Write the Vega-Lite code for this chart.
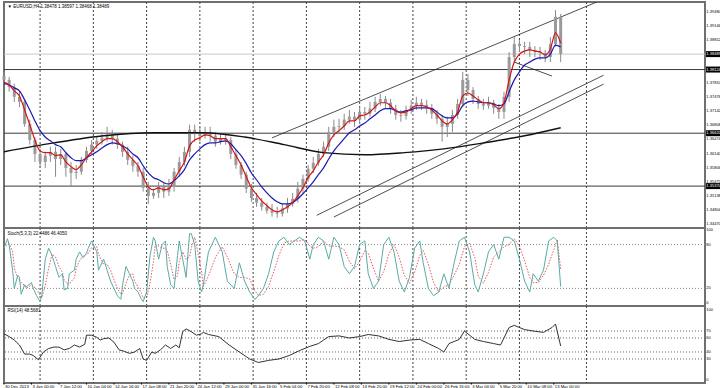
{
"$schema":"https://vega.github.io/schema/vega-lite/v6.json",
"background":"white","padding":0,"spacing":0,"bounds":"flush",
"config":{"view":{"stroke":"#707070","strokeWidth":2},"text":{"font":"Liberation Sans, Arial, sans-serif","fontSize":4.2,"color":"#000"}},
"datasets":{
"grid":[{"i":21},{"i":52},{"i":83},{"i":114},{"i":145},{"i":176},{"i":207},{"i":238},{"i":269},{"i":300},{"i":339}],
"pticks":[{"p":1.3948},{"p":1.39146},{"p":1.38812},{"p":1.38478},{"p":1.38144},{"p":1.3781},{"p":1.37476},{"p":1.37142},{"p":1.36808},{"p":1.36474},{"p":1.3614},{"p":1.35806},{"p":1.35472},{"p":1.35138},{"p":1.34804},{"p":1.3447}],
"xlabels":[{"i":0,"t":"30 Dec 2013"},{"i":16,"t":"3 Jan 00:00"},{"i":32,"t":"7 Jan 12:00"},{"i":48,"t":"10 Jan 04:00"},{"i":64,"t":"14 Jan 16:00"},{"i":80,"t":"17 Jan 08:00"},{"i":96,"t":"21 Jan 20:00"},{"i":112,"t":"24 Jan 12:00"},{"i":128,"t":"29 Jan 00:00"},{"i":144,"t":"31 Jan 16:00"},{"i":160,"t":"5 Feb 04:00"},{"i":176,"t":"7 Feb 20:00"},{"i":192,"t":"12 Feb 08:00"},{"i":208,"t":"16 Feb 20:00"},{"i":224,"t":"19 Feb 12:00"},{"i":240,"t":"24 Feb 00:00"},{"i":256,"t":"26 Feb 16:00"},{"i":272,"t":"3 Mar 04:00"},{"i":288,"t":"5 Mar 20:00"},{"i":304,"t":"10 Mar 08:00"},{"i":320,"t":"13 Mar 00:00"}],
"levels":[{"level":1.38489,"kind":"bid"},{"level":1.38124,"kind":"level"},{"level":1.3662,"kind":"level"},{"level":1.3537,"kind":"level"}],
"trend":[{"i1":156,"p1":1.3651,"i2":345,"p2":1.3972},{"i1":182,"p1":1.3468,"i2":349,"p2":1.3799},{"i1":192,"p1":1.3464,"i2":349,"p2":1.3778},{"i1":297,"p1":1.383,"i2":319,"p2":1.3797}],
"ma200":[{"i":0,"v":1.3618},{"i":29,"v":1.3639},{"i":58,"v":1.3656},{"i":87,"v":1.3663},{"i":116,"v":1.3663},{"i":140,"v":1.3653},{"i":163,"v":1.3635},{"i":186,"v":1.3616},{"i":210,"v":1.3611},{"i":233,"v":1.3616},{"i":256,"v":1.3625},{"i":279,"v":1.3639},{"i":303,"v":1.3656},{"i":324,"v":1.3675}],
"candles":[
{"i":0,"o":1.3797,"h":1.3807,"l":1.3779,"c":1.3788,"r":1.3783,"b":1.3779},
{"i":3,"o":1.3788,"h":1.3795,"l":1.376,"c":1.3771,"r":1.3776,"b":1.3776},
{"i":6,"o":1.3771,"h":1.3779,"l":1.3736,"c":1.3748,"r":1.3762,"b":1.3769},
{"i":9,"o":1.3748,"h":1.376,"l":1.3724,"c":1.3736,"r":1.375,"b":1.3762},
{"i":12,"o":1.3736,"h":1.3743,"l":1.3677,"c":1.3684,"r":1.3717,"b":1.3741},
{"i":15,"o":1.3684,"h":1.3694,"l":1.3635,"c":1.3646,"r":1.3682,"b":1.3717},
{"i":18,"o":1.3646,"h":1.3653,"l":1.3594,"c":1.3613,"r":1.3646,"b":1.3691},
{"i":21,"o":1.3613,"h":1.3625,"l":1.358,"c":1.3594,"r":1.362,"b":1.3668},
{"i":24,"o":1.3594,"h":1.3618,"l":1.358,"c":1.3609,"r":1.3616,"b":1.3653},
{"i":27,"o":1.3609,"h":1.363,"l":1.3594,"c":1.3618,"r":1.3616,"b":1.3644},
{"i":30,"o":1.3618,"h":1.363,"l":1.3559,"c":1.3601,"r":1.3609,"b":1.3635},
{"i":33,"o":1.3601,"h":1.3625,"l":1.3587,"c":1.3613,"r":1.3611,"b":1.363},
{"i":36,"o":1.3613,"h":1.3618,"l":1.3559,"c":1.358,"r":1.3594,"b":1.3616},
{"i":39,"o":1.358,"h":1.3594,"l":1.3535,"c":1.3568,"r":1.3583,"b":1.3604},
{"i":42,"o":1.3568,"h":1.3587,"l":1.3554,"c":1.3571,"r":1.3576,"b":1.3597},
{"i":45,"o":1.3571,"h":1.3606,"l":1.3564,"c":1.3599,"r":1.3587,"b":1.3597},
{"i":48,"o":1.3599,"h":1.363,"l":1.3592,"c":1.362,"r":1.3604,"b":1.3604},
{"i":51,"o":1.362,"h":1.3646,"l":1.3613,"c":1.3635,"r":1.3618,"b":1.3611},
{"i":54,"o":1.3635,"h":1.3653,"l":1.3625,"c":1.3644,"r":1.3632,"b":1.3618},
{"i":57,"o":1.3644,"h":1.3665,"l":1.3635,"c":1.3651,"r":1.3642,"b":1.3627},
{"i":60,"o":1.3651,"h":1.3677,"l":1.3642,"c":1.3658,"r":1.3649,"b":1.3635},
{"i":63,"o":1.3658,"h":1.367,"l":1.3635,"c":1.3649,"r":1.3649,"b":1.3639},
{"i":66,"o":1.3649,"h":1.3658,"l":1.3625,"c":1.3635,"r":1.3642,"b":1.3637},
{"i":69,"o":1.3635,"h":1.3642,"l":1.3606,"c":1.3618,"r":1.363,"b":1.3632},
{"i":72,"o":1.3618,"h":1.363,"l":1.3587,"c":1.3599,"r":1.3613,"b":1.3625},
{"i":75,"o":1.3599,"h":1.3609,"l":1.3571,"c":1.3585,"r":1.3599,"b":1.3613},
{"i":78,"o":1.3585,"h":1.3594,"l":1.3559,"c":1.3571,"r":1.3585,"b":1.3604},
{"i":81,"o":1.3571,"h":1.358,"l":1.3524,"c":1.3533,"r":1.3559,"b":1.3585},
{"i":84,"o":1.3533,"h":1.3547,"l":1.3495,"c":1.3514,"r":1.3535,"b":1.3568},
{"i":87,"o":1.3514,"h":1.3531,"l":1.3507,"c":1.3521,"r":1.3528,"b":1.3557},
{"i":90,"o":1.3521,"h":1.3547,"l":1.3509,"c":1.3535,"r":1.3533,"b":1.3552},
{"i":93,"o":1.3535,"h":1.3547,"l":1.3509,"c":1.3524,"r":1.3528,"b":1.3545},
{"i":96,"o":1.3524,"h":1.3554,"l":1.3514,"c":1.3535,"r":1.3531,"b":1.3542},
{"i":99,"o":1.3535,"h":1.358,"l":1.3524,"c":1.3571,"r":1.3552,"b":1.355},
{"i":102,"o":1.3571,"h":1.3606,"l":1.3559,"c":1.3594,"r":1.3573,"b":1.3561},
{"i":105,"o":1.3594,"h":1.363,"l":1.3585,"c":1.3618,"r":1.3594,"b":1.3576},
{"i":108,"o":1.3618,"h":1.3682,"l":1.3606,"c":1.367,"r":1.3632,"b":1.3599},
{"i":111,"o":1.367,"h":1.3682,"l":1.3642,"c":1.366,"r":1.3646,"b":1.3613},
{"i":114,"o":1.366,"h":1.3677,"l":1.3642,"c":1.3656,"r":1.3651,"b":1.3625},
{"i":117,"o":1.3656,"h":1.3677,"l":1.3649,"c":1.3665,"r":1.3658,"b":1.3635},
{"i":120,"o":1.3665,"h":1.3677,"l":1.3642,"c":1.3656,"r":1.3656,"b":1.3639},
{"i":123,"o":1.3656,"h":1.3665,"l":1.363,"c":1.3642,"r":1.3649,"b":1.3639},
{"i":126,"o":1.3642,"h":1.366,"l":1.3635,"c":1.3649,"r":1.3649,"b":1.3642},
{"i":129,"o":1.3649,"h":1.3658,"l":1.3635,"c":1.3646,"r":1.3649,"b":1.3644},
{"i":132,"o":1.3646,"h":1.3653,"l":1.3601,"c":1.3613,"r":1.363,"b":1.3637},
{"i":135,"o":1.3613,"h":1.3625,"l":1.3578,"c":1.3587,"r":1.3609,"b":1.3623},
{"i":138,"o":1.3587,"h":1.3594,"l":1.3554,"c":1.3564,"r":1.3587,"b":1.3609},
{"i":141,"o":1.3564,"h":1.3571,"l":1.3521,"c":1.3531,"r":1.3559,"b":1.359},
{"i":144,"o":1.3531,"h":1.3542,"l":1.35,"c":1.3509,"r":1.3533,"b":1.3568},
{"i":147,"o":1.3509,"h":1.3521,"l":1.3488,"c":1.3498,"r":1.3517,"b":1.3552},
{"i":150,"o":1.3498,"h":1.3509,"l":1.3479,"c":1.3488,"r":1.3502,"b":1.3535},
{"i":153,"o":1.3488,"h":1.3498,"l":1.3472,"c":1.3479,"r":1.3491,"b":1.3521},
{"i":156,"o":1.3479,"h":1.3495,"l":1.3465,"c":1.3474,"r":1.3481,"b":1.3509},
{"i":159,"o":1.3474,"h":1.3488,"l":1.3462,"c":1.3472,"r":1.3476,"b":1.35},
{"i":162,"o":1.3472,"h":1.3495,"l":1.3465,"c":1.3484,"r":1.3481,"b":1.3495},
{"i":165,"o":1.3484,"h":1.3509,"l":1.3474,"c":1.3495,"r":1.3488,"b":1.3495},
{"i":168,"o":1.3495,"h":1.3521,"l":1.3488,"c":1.3507,"r":1.3498,"b":1.3498},
{"i":171,"o":1.3507,"h":1.3547,"l":1.3498,"c":1.3531,"r":1.3514,"b":1.3507},
{"i":174,"o":1.3531,"h":1.3564,"l":1.3521,"c":1.3554,"r":1.3533,"b":1.3519},
{"i":177,"o":1.3554,"h":1.3587,"l":1.3547,"c":1.3578,"r":1.3557,"b":1.3533},
{"i":180,"o":1.3578,"h":1.3606,"l":1.3568,"c":1.3592,"r":1.3573,"b":1.3547},
{"i":183,"o":1.3592,"h":1.3625,"l":1.3585,"c":1.3613,"r":1.3594,"b":1.3564},
{"i":186,"o":1.3613,"h":1.3642,"l":1.3606,"c":1.363,"r":1.3611,"b":1.358},
{"i":189,"o":1.363,"h":1.3677,"l":1.362,"c":1.3665,"r":1.3639,"b":1.3601},
{"i":192,"o":1.3665,"h":1.3694,"l":1.3653,"c":1.3677,"r":1.3658,"b":1.362},
{"i":195,"o":1.3677,"h":1.3696,"l":1.366,"c":1.3679,"r":1.3668,"b":1.3635},
{"i":198,"o":1.3679,"h":1.3708,"l":1.367,"c":1.3694,"r":1.3679,"b":1.3649},
{"i":201,"o":1.3694,"h":1.3717,"l":1.3684,"c":1.3701,"r":1.3691,"b":1.3663},
{"i":204,"o":1.3701,"h":1.3712,"l":1.3677,"c":1.3694,"r":1.3691,"b":1.367},
{"i":207,"o":1.3694,"h":1.3724,"l":1.3684,"c":1.3712,"r":1.3703,"b":1.3679},
{"i":210,"o":1.3712,"h":1.3724,"l":1.3694,"c":1.3708,"r":1.3705,"b":1.3686},
{"i":213,"o":1.3708,"h":1.3736,"l":1.3701,"c":1.372,"r":1.3712,"b":1.3696},
{"i":216,"o":1.372,"h":1.3748,"l":1.3712,"c":1.3736,"r":1.3724,"b":1.3705},
{"i":219,"o":1.3736,"h":1.3755,"l":1.3727,"c":1.3743,"r":1.3734,"b":1.3715},
{"i":222,"o":1.3743,"h":1.375,"l":1.3722,"c":1.3734,"r":1.3734,"b":1.372},
{"i":225,"o":1.3734,"h":1.3743,"l":1.3708,"c":1.372,"r":1.3727,"b":1.372},
{"i":228,"o":1.372,"h":1.3729,"l":1.3694,"c":1.3705,"r":1.3715,"b":1.3715},
{"i":231,"o":1.3705,"h":1.3717,"l":1.3689,"c":1.3703,"r":1.371,"b":1.3712},
{"i":234,"o":1.3703,"h":1.3727,"l":1.3694,"c":1.3717,"r":1.3712,"b":1.3715},
{"i":237,"o":1.3717,"h":1.3741,"l":1.3708,"c":1.3727,"r":1.372,"b":1.3717},
{"i":240,"o":1.3727,"h":1.3748,"l":1.3717,"c":1.3734,"r":1.3727,"b":1.3722},
{"i":243,"o":1.3734,"h":1.3743,"l":1.3717,"c":1.3729,"r":1.3727,"b":1.3722},
{"i":246,"o":1.3729,"h":1.3741,"l":1.3708,"c":1.3722,"r":1.3724,"b":1.3722},
{"i":249,"o":1.3722,"h":1.3731,"l":1.3696,"c":1.3708,"r":1.3717,"b":1.372},
{"i":252,"o":1.3708,"h":1.3717,"l":1.3684,"c":1.3696,"r":1.3705,"b":1.3712},
{"i":255,"o":1.3696,"h":1.3705,"l":1.3642,"c":1.3677,"r":1.3691,"b":1.3703},
{"i":258,"o":1.3677,"h":1.3701,"l":1.3653,"c":1.3684,"r":1.3684,"b":1.3698},
{"i":261,"o":1.3684,"h":1.3717,"l":1.3665,"c":1.3705,"r":1.3694,"b":1.3698},
{"i":264,"o":1.3705,"h":1.3743,"l":1.3696,"c":1.3731,"r":1.3712,"b":1.3708},
{"i":267,"o":1.3731,"h":1.3807,"l":1.3724,"c":1.3788,"r":1.375,"b":1.3727},
{"i":270,"o":1.3788,"h":1.3802,"l":1.375,"c":1.3764,"r":1.3757,"b":1.3736},
{"i":273,"o":1.3764,"h":1.3771,"l":1.3731,"c":1.3743,"r":1.375,"b":1.3738},
{"i":276,"o":1.3743,"h":1.375,"l":1.372,"c":1.3731,"r":1.3741,"b":1.3736},
{"i":279,"o":1.3731,"h":1.3743,"l":1.3717,"c":1.3727,"r":1.3734,"b":1.3734},
{"i":282,"o":1.3727,"h":1.3748,"l":1.372,"c":1.3734,"r":1.3734,"b":1.3734},
{"i":285,"o":1.3734,"h":1.3741,"l":1.3708,"c":1.3722,"r":1.3729,"b":1.3731},
{"i":288,"o":1.3722,"h":1.3731,"l":1.3696,"c":1.3712,"r":1.372,"b":1.3727},
{"i":291,"o":1.3712,"h":1.376,"l":1.3696,"c":1.3748,"r":1.3734,"b":1.3731},
{"i":294,"o":1.3748,"h":1.3854,"l":1.3736,"c":1.3842,"r":1.3788,"b":1.376},
{"i":297,"o":1.3842,"h":1.3889,"l":1.383,"c":1.3873,"r":1.383,"b":1.3788},
{"i":300,"o":1.3873,"h":1.3882,"l":1.3854,"c":1.3868,"r":1.3849,"b":1.3807},
{"i":303,"o":1.3868,"h":1.3878,"l":1.3849,"c":1.3866,"r":1.3856,"b":1.3823},
{"i":306,"o":1.3866,"h":1.3878,"l":1.3842,"c":1.3859,"r":1.3859,"b":1.383},
{"i":309,"o":1.3859,"h":1.3868,"l":1.3842,"c":1.3854,"r":1.3856,"b":1.3837},
{"i":312,"o":1.3854,"h":1.3866,"l":1.3835,"c":1.3852,"r":1.3854,"b":1.384},
{"i":315,"o":1.3852,"h":1.3859,"l":1.383,"c":1.3842,"r":1.3847,"b":1.384},
{"i":318,"o":1.3842,"h":1.3889,"l":1.383,"c":1.3873,"r":1.3861,"b":1.3849},
{"i":321,"o":1.3873,"h":1.3953,"l":1.3866,"c":1.3937,"r":1.3899,"b":1.387},
{"i":324,"o":1.3937,"h":1.3944,"l":1.383,"c":1.38489,"r":1.3875,"b":1.3866}],
"stoch":[
{"i":0,"k":75,"d":75},{"i":2,"k":88,"d":81},{"i":3,"k":80,"d":81},{"i":5,"k":45,"d":71},{"i":6,"k":20,"d":48},{"i":8,"k":38,"d":34},{"i":9,"k":35,"d":31},{"i":10,"k":12,"d":28},{"i":12,"k":25,"d":24},{"i":13,"k":22,"d":20},{"i":16,"k":28,"d":25},{"i":17,"k":20,"d":23},{"i":19,"k":10,"d":19},{"i":21,"k":2,"d":11},{"i":22,"k":10,"d":7},{"i":24,"k":60,"d":24},{"i":26,"k":75,"d":48},{"i":28,"k":65,"d":67},{"i":30,"k":50,"d":63},{"i":32,"k":35,"d":50},{"i":34,"k":40,"d":42},{"i":35,"k":18,"d":31},{"i":37,"k":20,"d":26},{"i":38,"k":40,"d":26},{"i":41,"k":45,"d":35},{"i":42,"k":60,"d":48},{"i":44,"k":70,"d":58},{"i":46,"k":62,"d":64},{"i":48,"k":68,"d":67},{"i":49,"k":75,"d":68},{"i":51,"k":85,"d":76},{"i":54,"k":70,"d":77},{"i":55,"k":45,"d":67},{"i":57,"k":55,"d":57},{"i":58,"k":60,"d":53},{"i":60,"k":45,"d":53},{"i":62,"k":30,"d":45},{"i":64,"k":20,"d":32},{"i":66,"k":10,"d":20},{"i":68,"k":5,"d":12},{"i":69,"k":25,"d":13},{"i":71,"k":50,"d":27},{"i":73,"k":40,"d":38},{"i":75,"k":30,"d":40},{"i":76,"k":20,"d":30},{"i":78,"k":15,"d":22},{"i":80,"k":5,"d":13},{"i":81,"k":2,"d":7},{"i":83,"k":15,"d":7},{"i":85,"k":65,"d":27},{"i":87,"k":90,"d":57},{"i":88,"k":85,"d":80},{"i":90,"k":60,"d":78},{"i":92,"k":80,"d":75},{"i":94,"k":85,"d":75},{"i":95,"k":50,"d":72},{"i":97,"k":25,"d":53},{"i":99,"k":20,"d":32},{"i":101,"k":65,"d":37},{"i":102,"k":85,"d":57},{"i":104,"k":60,"d":70},{"i":106,"k":35,"d":60},{"i":108,"k":95,"d":63},{"i":109,"k":95,"d":75},{"i":111,"k":80,"d":90},{"i":113,"k":30,"d":68},{"i":115,"k":15,"d":42},{"i":116,"k":25,"d":23},{"i":119,"k":70,"d":37},{"i":123,"k":90,"d":62},{"i":127,"k":70,"d":77},{"i":130,"k":30,"d":63},{"i":134,"k":20,"d":40},{"i":137,"k":55,"d":35},{"i":140,"k":30,"d":35},{"i":143,"k":15,"d":33},{"i":146,"k":5,"d":17},{"i":148,"k":10,"d":10},{"i":151,"k":20,"d":12},{"i":154,"k":40,"d":23},{"i":157,"k":70,"d":43},{"i":160,"k":85,"d":65},{"i":163,"k":90,"d":82},{"i":166,"k":80,"d":85},{"i":169,"k":85,"d":85},{"i":172,"k":90,"d":85},{"i":175,"k":85,"d":87},{"i":178,"k":60,"d":78},{"i":180,"k":80,"d":75},{"i":183,"k":90,"d":77},{"i":186,"k":85,"d":85},{"i":189,"k":60,"d":78},{"i":192,"k":90,"d":78},{"i":195,"k":80,"d":77},{"i":198,"k":50,"d":73},{"i":201,"k":40,"d":57},{"i":204,"k":50,"d":47},{"i":207,"k":80,"d":57},{"i":210,"k":85,"d":72},{"i":212,"k":40,"d":68},{"i":215,"k":20,"d":48},{"i":218,"k":30,"d":30},{"i":221,"k":80,"d":43},{"i":224,"k":90,"d":67},{"i":227,"k":70,"d":80},{"i":230,"k":30,"d":63},{"i":233,"k":15,"d":38},{"i":236,"k":35,"d":27},{"i":239,"k":75,"d":42},{"i":242,"k":85,"d":65},{"i":244,"k":55,"d":72},{"i":247,"k":20,"d":53},{"i":250,"k":10,"d":28},{"i":253,"k":15,"d":15},{"i":256,"k":40,"d":22},{"i":259,"k":20,"d":25},{"i":262,"k":55,"d":38},{"i":265,"k":85,"d":53},{"i":268,"k":90,"d":77},{"i":271,"k":70,"d":82},{"i":274,"k":25,"d":62},{"i":276,"k":15,"d":37},{"i":279,"k":40,"d":27},{"i":282,"k":70,"d":42},{"i":285,"k":80,"d":63},{"i":288,"k":60,"d":70},{"i":291,"k":90,"d":77},{"i":294,"k":90,"d":80},{"i":297,"k":85,"d":88},{"i":300,"k":60,"d":78},{"i":303,"k":30,"d":58},{"i":306,"k":15,"d":35},{"i":308,"k":40,"d":28},{"i":311,"k":30,"d":28},{"i":314,"k":45,"d":38},{"i":317,"k":85,"d":53},{"i":320,"k":90,"d":73},{"i":322,"k":85,"d":87},{"i":324,"k":22.45,"d":46.41}],
"rsi":[
{"i":0,"v":66},{"i":3,"v":62},{"i":6,"v":57},{"i":9,"v":50},{"i":12,"v":37},{"i":15,"v":37},{"i":17,"v":35},{"i":20,"v":29},{"i":23,"v":40},{"i":26,"v":45},{"i":29,"v":47},{"i":32,"v":47},{"i":35,"v":43},{"i":38,"v":45},{"i":41,"v":50},{"i":44,"v":47},{"i":47,"v":51},{"i":48,"v":64},{"i":51,"v":64},{"i":54,"v":61},{"i":56,"v":57},{"i":58,"v":59},{"i":61,"v":60},{"i":64,"v":54},{"i":67,"v":43},{"i":70,"v":41},{"i":73,"v":38},{"i":76,"v":40},{"i":79,"v":45},{"i":81,"v":30},{"i":83,"v":28},{"i":86,"v":40},{"i":88,"v":38},{"i":91,"v":43},{"i":94,"v":50},{"i":97,"v":45},{"i":100,"v":50},{"i":102,"v":46},{"i":104,"v":69},{"i":106,"v":73},{"i":109,"v":69},{"i":112,"v":64},{"i":115,"v":66},{"i":116,"v":68},{"i":119,"v":65},{"i":125,"v":62},{"i":131,"v":50},{"i":137,"v":40},{"i":143,"v":30},{"i":148,"v":25},{"i":154,"v":28},{"i":160,"v":30},{"i":166,"v":35},{"i":172,"v":42},{"i":178,"v":48},{"i":183,"v":52},{"i":189,"v":62},{"i":195,"v":63},{"i":201,"v":60},{"i":207,"v":62},{"i":212,"v":65},{"i":218,"v":63},{"i":224,"v":58},{"i":230,"v":55},{"i":236,"v":57},{"i":242,"v":58},{"i":247,"v":52},{"i":253,"v":45},{"i":256,"v":40},{"i":259,"v":52},{"i":265,"v":58},{"i":268,"v":70},{"i":274,"v":58},{"i":279,"v":55},{"i":285,"v":52},{"i":289,"v":50},{"i":294,"v":75},{"i":297,"v":78},{"i":303,"v":72},{"i":308,"v":70},{"i":314,"v":68},{"i":319,"v":75},{"i":321,"v":80},{"i":324,"v":48.57}]
},
"vconcat":[
{"width":701,"height":226,
 "layer":[
  {"data":{"name":"grid"},"mark":{"type":"rule","strokeDash":[2,2],"color":"#444","strokeWidth":1},
   "encoding":{"x":{"field":"i","type":"quantitative","scale":{"domain":[0,408],"zero":false,"nice":false},"axis":null}}},
  {"data":{"name":"levels"},"mark":{"type":"rule","strokeWidth":1},
   "encoding":{"y":{"field":"level","type":"quantitative","scale":{"domain":[1.3438,1.3972],"zero":false,"nice":false},"axis":null},
    "color":{"field":"kind","type":"nominal","scale":{"domain":["bid","level"],"range":["#c8c8c8","#3a3a3a"]},"legend":null}}},
  {"data":{"name":"pticks"},"mark":{"type":"text","align":"left","baseline":"middle","fontSize":4},
   "encoding":{"x":{"datum":408.8,"type":"quantitative","scale":{"domain":[0,408],"zero":false,"nice":false},"axis":null},
    "y":{"field":"p","type":"quantitative","scale":{"domain":[1.3438,1.3972],"zero":false,"nice":false},"axis":null},
    "text":{"field":"p","format":".5f"}}},
  {"data":{"name":"trend"},"mark":{"type":"rule","color":"#222","strokeWidth":0.8,"clip":true},
   "encoding":{"x":{"field":"i1","type":"quantitative","scale":{"domain":[0,408],"zero":false,"nice":false},"axis":null},"x2":{"field":"i2"},
    "y":{"field":"p1","type":"quantitative","scale":{"domain":[1.3438,1.3972],"zero":false,"nice":false},"axis":null},"y2":{"field":"p2"}}},
  {"data":{"name":"candles"},"mark":{"type":"rule","color":"#8a8a8a","strokeWidth":1},
   "encoding":{"x":{"field":"i","type":"quantitative","scale":{"domain":[0,408],"zero":false,"nice":false},"axis":null},
    "y":{"field":"l","type":"quantitative","scale":{"domain":[1.3438,1.3972],"zero":false,"nice":false},"axis":null},"y2":{"field":"h"}}},
  {"data":{"name":"candles"},"mark":{"type":"rule","color":"#9a9a9a","strokeWidth":3},
   "encoding":{"x":{"field":"i","type":"quantitative","scale":{"domain":[0,408],"zero":false,"nice":false},"axis":null},
    "y":{"field":"o","type":"quantitative","scale":{"domain":[1.3438,1.3972],"zero":false,"nice":false},"axis":null},"y2":{"field":"c"}}},
  {"data":{"name":"ma200"},"mark":{"type":"line","color":"#111","strokeWidth":1.4,"interpolate":"monotone"},
   "encoding":{"x":{"field":"i","type":"quantitative","scale":{"domain":[0,408],"zero":false,"nice":false},"axis":null},
    "y":{"field":"v","type":"quantitative","scale":{"domain":[1.3438,1.3972],"zero":false,"nice":false},"axis":null}}},
  {"data":{"name":"candles"},"mark":{"type":"line","color":"#1a1ab4","strokeWidth":1.2,"interpolate":"monotone"},
   "encoding":{"x":{"field":"i","type":"quantitative","scale":{"domain":[0,408],"zero":false,"nice":false},"axis":null},
    "y":{"field":"b","type":"quantitative","scale":{"domain":[1.3438,1.3972],"zero":false,"nice":false},"axis":null}}},
  {"data":{"name":"candles"},"mark":{"type":"line","color":"#d41414","strokeWidth":1.2,"interpolate":"monotone"},
   "encoding":{"x":{"field":"i","type":"quantitative","scale":{"domain":[0,408],"zero":false,"nice":false},"axis":null},
    "y":{"field":"r","type":"quantitative","scale":{"domain":[1.3438,1.3972],"zero":false,"nice":false},"axis":null}}},
  {"data":{"name":"levels"},"mark":{"type":"rule","color":"#000","strokeWidth":6},
   "encoding":{"x":{"datum":408.6,"type":"quantitative","scale":{"domain":[0,408],"zero":false,"nice":false},"axis":null},"x2":{"datum":418.6},
    "y":{"field":"level","type":"quantitative","scale":{"domain":[1.3438,1.3972],"zero":false,"nice":false},"axis":null}}},
  {"data":{"name":"levels"},"mark":{"type":"text","color":"#fff","align":"left","baseline":"middle","fontSize":4},
   "encoding":{"x":{"datum":408.8,"type":"quantitative","scale":{"domain":[0,408],"zero":false,"nice":false},"axis":null},
    "y":{"field":"level","type":"quantitative","scale":{"domain":[1.3438,1.3972],"zero":false,"nice":false},"axis":null},
    "text":{"field":"level","format":".5f"}}},
  {"data":{"values":[{"t":"▼ EURUSD,H4  1.38478 1.38597 1.38468 1.38489"}]},"mark":{"type":"text","align":"left","baseline":"middle","fontSize":4.5},
   "encoding":{"x":{"datum":2,"type":"quantitative","scale":{"domain":[0,408],"zero":false,"nice":false},"axis":null},
    "y":{"datum":1.3961,"type":"quantitative","scale":{"domain":[1.3438,1.3972],"zero":false,"nice":false},"axis":null},
    "text":{"field":"t"}}}
 ]},
{"width":701,"height":78,
 "layer":[
  {"data":{"name":"grid"},"mark":{"type":"rule","strokeDash":[2,2],"color":"#444","strokeWidth":1},
   "encoding":{"x":{"field":"i","type":"quantitative","scale":{"domain":[0,408],"zero":false,"nice":false},"axis":null}}},
  {"data":{"values":[{"v":80},{"v":20}]},"mark":{"type":"rule","strokeDash":[1,2],"color":"#888","strokeWidth":1},
   "encoding":{"y":{"field":"v","type":"quantitative","scale":{"domain":[-4.1,102.7],"zero":false,"nice":false},"axis":null}}},
  {"data":{"values":[{"v":100},{"v":80},{"v":20},{"v":0}]},"mark":{"type":"text","align":"left","baseline":"middle","fontSize":4},
   "encoding":{"x":{"datum":408.8,"type":"quantitative","scale":{"domain":[0,408],"zero":false,"nice":false},"axis":null},
    "y":{"field":"v","type":"quantitative","scale":{"domain":[-4.1,102.7],"zero":false,"nice":false},"axis":null},"text":{"field":"v"}}},
  {"data":{"name":"stoch"},"mark":{"type":"line","color":"#e05a5a","strokeWidth":1,"strokeDash":[1.5,1.5]},
   "encoding":{"x":{"field":"i","type":"quantitative","scale":{"domain":[0,408],"zero":false,"nice":false},"axis":null},
    "y":{"field":"d","type":"quantitative","scale":{"domain":[-4.1,102.7],"zero":false,"nice":false},"axis":null}}},
  {"data":{"name":"stoch"},"mark":{"type":"line","color":"#5aaaa8","strokeWidth":1},
   "encoding":{"x":{"field":"i","type":"quantitative","scale":{"domain":[0,408],"zero":false,"nice":false},"axis":null},
    "y":{"field":"k","type":"quantitative","scale":{"domain":[-4.1,102.7],"zero":false,"nice":false},"axis":null}}},
  {"data":{"values":[{"t":"Stoch(5,3,3) 22.4486 46.4050"}]},"mark":{"type":"text","align":"left","baseline":"middle","fontSize":4.5},
   "encoding":{"x":{"datum":2,"type":"quantitative","scale":{"domain":[0,408],"zero":false,"nice":false},"axis":null},
    "y":{"datum":94,"type":"quantitative","scale":{"domain":[-4.1,102.7],"zero":false,"nice":false},"axis":null},
    "text":{"field":"t"}}}
 ]},
{"width":701,"height":77,
 "layer":[
  {"data":{"name":"grid"},"mark":{"type":"rule","strokeDash":[2,2],"color":"#444","strokeWidth":1},
   "encoding":{"x":{"field":"i","type":"quantitative","scale":{"domain":[0,408],"zero":false,"nice":false},"axis":null}}},
  {"data":{"values":[{"v":70},{"v":60},{"v":40},{"v":30}]},"mark":{"type":"rule","strokeDash":[1,2],"color":"#666","strokeWidth":1},
   "encoding":{"y":{"field":"v","type":"quantitative","scale":{"domain":[-4.3,105.7],"zero":false,"nice":false},"axis":null}}},
  {"data":{"values":[{"v":100},{"v":70},{"v":60},{"v":40},{"v":30},{"v":0}]},"mark":{"type":"text","align":"left","baseline":"middle","fontSize":4},
   "encoding":{"x":{"datum":408.8,"type":"quantitative","scale":{"domain":[0,408],"zero":false,"nice":false},"axis":null},
    "y":{"field":"v","type":"quantitative","scale":{"domain":[-4.3,105.7],"zero":false,"nice":false},"axis":null},"text":{"field":"v"}}},
  {"data":{"name":"xlabels"},"mark":{"type":"rule","color":"#000","strokeWidth":1},
   "encoding":{"x":{"field":"i","type":"quantitative","scale":{"domain":[0,408],"zero":false,"nice":false},"axis":null},
    "y":{"datum":-4.3,"type":"quantitative","scale":{"domain":[-4.3,105.7],"zero":false,"nice":false},"axis":null},"y2":{"datum":-6.5}}},
  {"data":{"name":"xlabels"},"mark":{"type":"text","align":"left","baseline":"middle","dx":1},
   "encoding":{"x":{"field":"i","type":"quantitative","scale":{"domain":[0,408],"zero":false,"nice":false},"axis":null},
    "y":{"datum":-9.5,"type":"quantitative","scale":{"domain":[-4.3,105.7],"zero":false,"nice":false},"axis":null},"text":{"field":"t"}}},
  {"data":{"name":"rsi"},"mark":{"type":"line","color":"#333","strokeWidth":1},
   "encoding":{"x":{"field":"i","type":"quantitative","scale":{"domain":[0,408],"zero":false,"nice":false},"axis":null},
    "y":{"field":"v","type":"quantitative","scale":{"domain":[-4.3,105.7],"zero":false,"nice":false},"axis":null}}},
  {"data":{"values":[{"t":"RSI(14) 48.5681"}]},"mark":{"type":"text","align":"left","baseline":"middle","fontSize":4.5},
   "encoding":{"x":{"datum":2,"type":"quantitative","scale":{"domain":[0,408],"zero":false,"nice":false},"axis":null},
    "y":{"datum":98,"type":"quantitative","scale":{"domain":[-4.3,105.7],"zero":false,"nice":false},"axis":null},
    "text":{"field":"t"}}}
 ]}
]
}
